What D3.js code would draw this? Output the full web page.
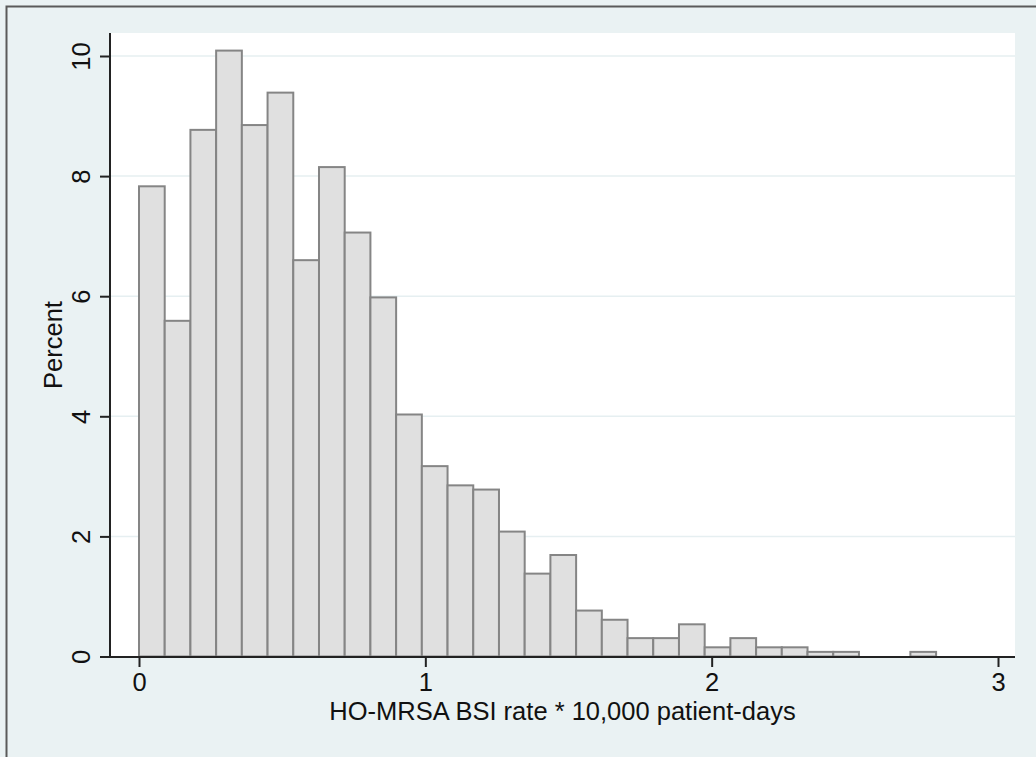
<!DOCTYPE html>
<html>
<head>
<meta charset="utf-8">
<script src="https://cdn.jsdelivr.net/npm/d3@7"></script>
<style>
  html, body { margin: 0; padding: 0; background: #eaf2f3; }
  svg { display: block; font-family: "Liberation Sans", Arial, Helvetica, sans-serif; }
</style>
</head>
<body>
<svg id="chart" width="1036" height="757"></svg>
<script>
// Histogram of HO-MRSA BSI rates

var binWidth = 0.0898;
var percent = [7.83, 5.59, 8.77, 10.09, 8.85, 9.39, 6.60, 8.15, 7.06, 5.98,
               4.03, 3.17, 2.85, 2.78, 2.08, 1.38, 1.69, 0.765, 0.612, 0.306,
               0.306, 0.536, 0.153, 0.306, 0.153, 0.153, 0.077, 0.077, 0, 0,
               0.077];
var xTicks = [0, 1, 2, 3];
var yTicks = [0, 2, 4, 6, 8, 10];
var xTitle = "HO-MRSA BSI rate * 10,000 patient-days";
var yTitle = "Percent";

///////////////////////////////////////////////////////////////////////////////
// Layout

var svg = d3.select("#chart");
var plot = {left: 110, right: 1015, top: 33, bottom: 657};
var fontSize = 25.5;

var x = d3.scaleLinear().domain([0, 3]).range([139, 998]);
var y = d3.scaleLinear().domain([0, 10]).range([656.5, 56]);

// outer frame (only top and left edges are inside the picture)
svg.append("rect")
  .attr("x", 0).attr("y", 0).attr("width", 1036).attr("height", 757)
  .attr("fill", "#eaf2f3");
svg.append("path")
  .attr("d", "M6.5,757V6.5H1036")
  .attr("fill", "none")
  .attr("stroke", "#5a5a5a")
  .attr("stroke-width", 2);

// plot region
svg.append("rect")
  .attr("x", plot.left).attr("y", plot.top)
  .attr("width", plot.right - plot.left)
  .attr("height", plot.bottom - plot.top)
  .attr("fill", "#fff");

// horizontal grid lines
svg.append("g").selectAll("line")
  .data(yTicks.filter(function (d) { return d > 0; }))
  .enter().append("line")
  .attr("x1", plot.left).attr("x2", plot.right)
  .attr("y1", function (d) { return y(d); })
  .attr("y2", function (d) { return y(d); })
  .attr("stroke", "#e6eff1")
  .attr("stroke-width", 1.5);

///////////////////////////////////////////////////////////////////////////////
// Bars

svg.append("g").selectAll("rect")
  .data(percent.map(function (p, i) { return {x0: i * binWidth, x1: (i + 1) * binWidth, p: p}; })
               .filter(function (d) { return d.p > 0; }))
  .enter().append("rect")
  .attr("x", function (d) { return x(d.x0); })
  .attr("width", function (d) { return x(d.x1) - x(d.x0); })
  .attr("y", function (d) { return y(d.p); })
  .attr("height", function (d) { return y(0) - y(d.p); })
  .attr("fill", "#e0e0e0")
  .attr("stroke", "#858585")
  .attr("stroke-width", 2);

///////////////////////////////////////////////////////////////////////////////
// Axes

var xAxis = svg.append("g")
  .attr("transform", "translate(0," + plot.bottom + ")")
  .call(d3.axisBottom(x).tickValues(xTicks).tickFormat(d3.format("d"))
        .tickSize(10).tickPadding(6).tickSizeOuter(0));
xAxis.select(".domain").attr("d", "M" + plot.left + ",0H" + plot.right);

var yAxis = svg.append("g")
  .attr("transform", "translate(" + plot.left + ",0)")
  .call(d3.axisLeft(y).tickValues(yTicks).tickFormat(d3.format("d"))
        .tickSize(10).tickSizeOuter(0));
yAxis.select(".domain").attr("d", "M0," + plot.top + "V" + plot.bottom);

svg.selectAll(".domain, .tick line")
  .attr("stroke", "#222")
  .attr("stroke-width", 2);

xAxis.selectAll(".tick text")
  .attr("font-size", fontSize)
  .attr("fill", "#111");

yAxis.selectAll(".tick text")
  .attr("font-size", fontSize)
  .attr("fill", "#111")
  .attr("text-anchor", "middle")
  .attr("dy", 0)
  .attr("x", 0)
  .attr("transform", "translate(-20,0) rotate(-90)");

// axis titles
svg.append("text")
  .attr("x", (plot.left + plot.right) / 2)
  .attr("y", 720)
  .attr("text-anchor", "middle")
  .attr("font-size", fontSize)
  .attr("fill", "#111")
  .text(xTitle);

svg.append("text")
  .attr("transform", "translate(62," + (plot.top + plot.bottom) / 2 + ") rotate(-90)")
  .attr("text-anchor", "middle")
  .attr("font-size", fontSize)
  .attr("fill", "#111")
  .text(yTitle);
</script>
</body>
</html>
